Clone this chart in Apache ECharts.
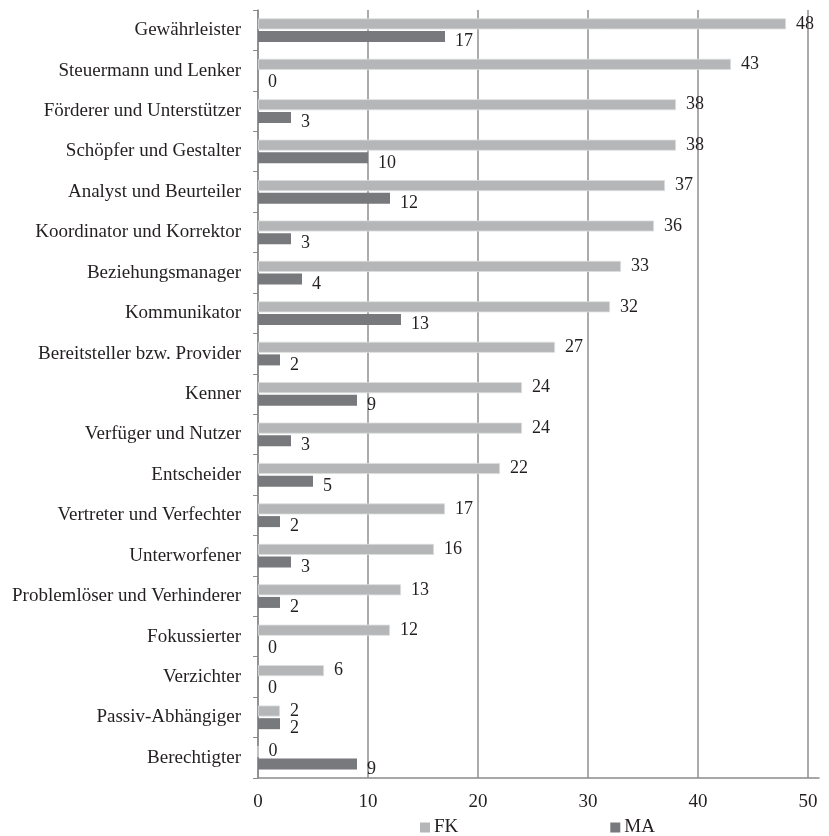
<!DOCTYPE html>
<html>
<head>
<meta charset="utf-8">
<script src="https://cdn.jsdelivr.net/npm/echarts@6/dist/echarts.min.js"></script>
<style>
  html, body { margin: 0; padding: 0; background: #fff; }
  #chart { width: 829px; height: 836px; }
</style>
</head>
<body>
<div id="chart"></div>
<script>
// Rollen, von oben nach unten
var categories = [
  'Gewährleister', 'Steuermann und Lenker', 'Förderer und Unterstützer',
  'Schöpfer und Gestalter', 'Analyst und Beurteiler', 'Koordinator und Korrektor',
  'Beziehungsmanager', 'Kommunikator', 'Bereitsteller bzw. Provider', 'Kenner',
  'Verfüger und Nutzer', 'Entscheider', 'Vertreter und Verfechter', 'Unterworfener',
  'Problemlöser und Verhinderer', 'Fokussierter', 'Verzichter', 'Passiv-Abhängiger',
  'Berechtigter'
]
var fkValues = [48, 43, 38, 38, 37, 36, 33, 32, 27, 24, 24, 22, 17, 16, 13, 12, 6, 2, 0]
var maValues = [17, 0, 3, 10, 12, 3, 4, 13, 2, 9, 3, 5, 2, 3, 2, 0, 0, 2, 9]

var font = '"Liberation Serif", "Times New Roman", serif'
var textColor = '#231f20'

var myChart = echarts.init(document.getElementById('chart'))
var option = {
  animation: false,
  grid: { left: 258, right: 10, top: 10, height: 768, containLabel: false },
  legend: {
    top: 816,
    left: 418,
    padding: 2,
    itemWidth: 10,
    itemHeight: 10,
    itemGap: 152,
    icon: 'rect',
    itemStyle: { borderWidth: 0 },
    textStyle: { fontFamily: font, fontSize: 19, color: textColor, padding: [2, 0, 0, -1] },
    data: ['FK', 'MA']
  },
  xAxis: {
    type: 'value',
    min: 0,
    max: 51,
    interval: 10,
    axisLine: { show: true, lineStyle: { color: '#8a8a8a', width: 1.5 } },
    axisTick: { show: false },
    axisLabel: { fontFamily: font, fontSize: 19, color: textColor, margin: 15, showMaxLabel: false },
    splitLine: { show: true, showMaxLine: false, lineStyle: { color: '#8f8f8f', width: 1.5 } }
  },
  yAxis: {
    type: 'category',
    inverse: true,
    data: categories,
    axisLine: { show: true, lineStyle: { color: '#8a8a8a', width: 1.5 } },
    axisTick: { show: true, length: 5, lineStyle: { color: '#8a8a8a' } },
    axisLabel: { fontFamily: font, fontSize: 19, color: textColor, margin: 17 }
  },
  series: [
    {
      name: 'FK',
      type: 'bar',
      data: fkValues,
      barWidth: 11,
      barGap: '15%',
      itemStyle: { color: '#b4b6b8', borderColor: '#dcdddd', borderWidth: 0.8 },
      label: {
        show: true, position: 'right', distance: 10, offset: [0, 0],
        fontFamily: font, fontSize: 18, color: textColor
      }
    },
    {
      name: 'MA',
      type: 'bar',
      data: maValues,
      barWidth: 11,
      itemStyle: { color: '#78797d' },
      label: {
        show: true, position: 'right', distance: 10, offset: [0, 5],
        fontFamily: font, fontSize: 18, color: textColor
      }
    }
  ]
}
myChart.setOption(option)
</script>
</body>
</html>
